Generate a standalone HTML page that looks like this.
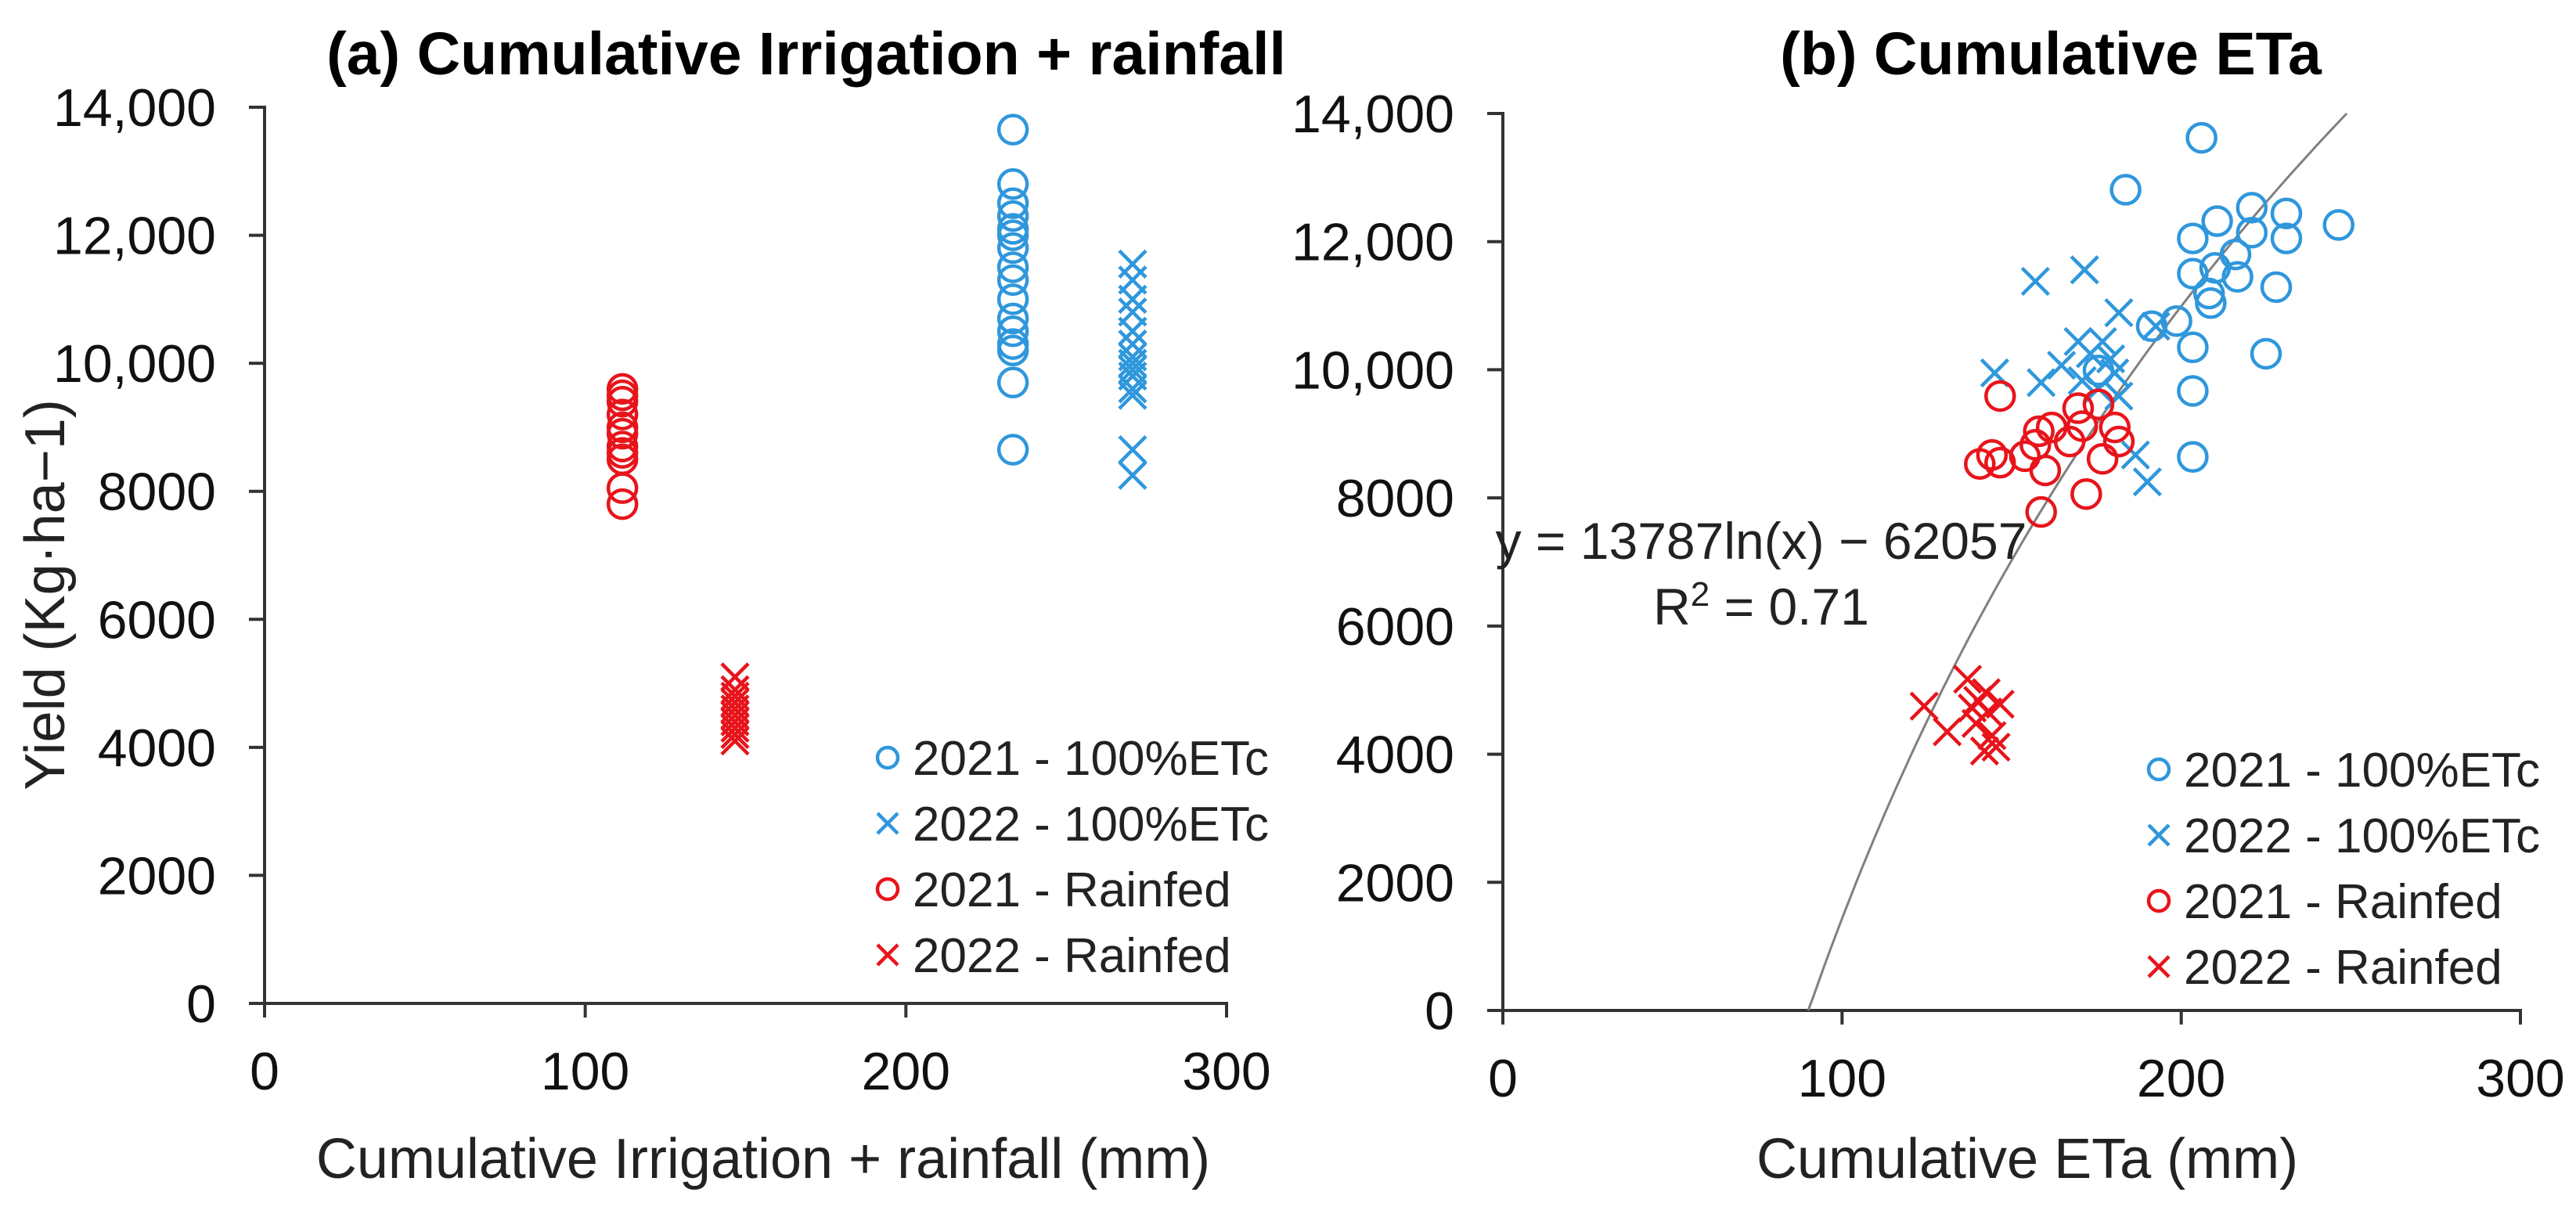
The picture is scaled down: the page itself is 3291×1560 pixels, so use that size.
<!DOCTYPE html>
<html><head><meta charset="utf-8"><style>
html,body{margin:0;padding:0;background:#fff;}
svg{display:block;font-family:"Liberation Sans",Arial,sans-serif;}
</style></head><body>
<svg id="chart" width="3291" height="1560" viewBox="0 0 3291 1560" xmlns="http://www.w3.org/2000/svg">
<rect width="3291" height="1560" fill="#fff"/>
<g id="pa"></g>
<g id="pb"></g>
</svg>
<script>
const xTicks = [0, 100, 200, 300];
const yTicks = [0, 2000, 4000, 6000, 8000, 10000, 12000, 14000];
const yTickLabels = ["0", "2000", "4000", "6000", "8000", "10,000", "12,000", "14,000"];
const seriesNames = ["2021 - 100%ETc", "2022 - 100%ETc", "2021 - Rainfed", "2022 - Rainfed"];

// Panel A data
const aIrr2021X = 233.4;
const aIrr2021Y = [13650,12800,12500,12300,12100,12000,11800,11500,11300,11000,10700,10500,10300,10200,9700,8650];
const aIrr2022X = 270.7;
const aIrr2022Y = [11550,11300,11000,10800,10500,10300,10100,10000,9900,9800,9600,9500,8650,8250];
const aRain2021X = 111.6;
const aRain2021Y = [9600,9500,9400,9200,9000,8900,8700,8600,8500,8050,7800];
const aRain2022X = 146.7;
const aRain2022Y = [5100,4900,4800,4700,4600,4500,4400,4300,4200,4100];

// Panel B data
const bIrr2021X = [206,183.6,203.4,210.6,220.8,220.8,231,231,246.4,203.4,210,216,216.6,208.2,208.7,228,198.6,203.4,225,203.4,203.4,175.6,191.3];
const bIrr2021Y = [13620,12810,12050,12320,12530,12140,12440,12050,12260,11500,11590,11800,11450,11190,11040,11290,10760,10350,10250,9670,8640,9990,10680];
const bIrr2022X = [157,171.5,145,158.7,181.6,192.5,164.7,169.6,173.2,176.8,179.2,170.8,175.6,181.6,186.5,190,180.4];
const bIrr2022Y = [11380,11560,9950,9800,10890,10680,10070,10440,10250,10440,10170,9830,9710,9590,8670,8250,9950];
const bRain2021X = [146.6,140.6,144.2,146.6,153.9,158,157,161.8,159.9,158.7,167.1,169.6,170.8,175.6,172,176.8,180.4,181.6];
const bRain2021Y = [9590,8530,8670,8550,8650,9040,8830,9100,8430,7780,8880,9400,9120,9460,8060,8610,9100,8880];
const bRain2022X = [124.2,131,137,140,143,144.2,145.4,142,139.5,146.6,142.5,138.4];
const bRain2022Y = [4750,4350,5170,4840,4660,4290,4110,4050,4480,4780,4960,4720];
const trendA = 13787, trendB = -62057;
const trendXRange = [90, 248.8];

const BLUE = "#2f97dc", RED = "#e8141b";
const NS = "http://www.w3.org/2000/svg";
function mk(parent, tag, attrs, text) {
  const e = document.createElementNS(NS, tag);
  for (const k in attrs) e.setAttribute(k, attrs[k]);
  if (text !== undefined) e.textContent = text;
  parent.appendChild(e);
  return e;
}
function makeAxes(x0, x1, y0, y1) {
  return {
    sx: v => x0 + (v - 0) / 300 * (x1 - x0),
    sy: v => y0 - v / 14000 * (y0 - y1)
  };
}
function circle(g, cx, cy, color) {
  const c = mk(g, "circle", {cx: cx, cy: cy, r: 18, fill: "none", stroke: color, "stroke-width": 4.5});
  
  
}
function cross(g, cx, cy, color) {
  const s = 17;
  const p = mk(g, "path", {d: `M${cx-s},${cy-s}L${cx+s},${cy+s}M${cx-s},${cy+s}L${cx+s},${cy-s}`, stroke: color, "stroke-width": 4.5, fill: "none"});
  
  
}
function drawFrame(g, ax, x0, x1, y0, y1, title, titleX, xTitle, xTitleX, legendX, legendY, withYTitle) {
  const axis = mk(g, "path", {d: `M${x0-20},${y1}H${x0}V${y0}H${x1}V${y0+18}`, stroke: "#333", "stroke-width": 4, fill: "none"});
  
  
  yTicks.forEach((v, i) => {
    const y = ax.sy(v);
    mk(g, "line", {x1: x0 - 20, x2: x0, y1: y, y2: y, stroke: "#333", "stroke-width": 4});
    const t = mk(g, "text", {x: x0 - 62, y: y + 24, "text-anchor": "end", "font-size": 68, fill: "#111"}, yTickLabels[i]);
    
    
  });
  xTicks.forEach(v => {
    const x = ax.sx(v);
    mk(g, "line", {x1: x, x2: x, y1: y0, y2: y0 + 18, stroke: "#333", "stroke-width": 4});
    const t = mk(g, "text", {x: x, y: y0 + 110, "text-anchor": "middle", "font-size": 68, fill: "#111"}, String(v));
    
    
  });
  const tt = mk(g, "text", {x: titleX, y: 95, "text-anchor": "middle", "font-size": 77, "font-weight": "bold", fill: "#000"}, title);
  
  
  const xt = mk(g, "text", {x: xTitleX, y: 1505, "text-anchor": "middle", "font-size": 72, fill: "#222"}, xTitle);
  
  
  if (withYTitle) {
    const yt = mk(g, "text", {x: 0, y: 0, transform: "translate(82,760) rotate(-90)", "text-anchor": "middle", "font-size": 72, fill: "#222"}, "Yield (Kg·ha−1)");
    
    
  }
  const colors = [BLUE, BLUE, RED, RED];
  seriesNames.forEach((n, i) => {
    const ly = legendY + i * 84;
    const lg = mk(g, "g", {});
    
    
    if (i % 2 === 0) {
      mk(lg, "circle", {cx: legendX, cy: ly, r: 13, fill: "none", stroke: colors[i], "stroke-width": 4.5});
    } else {
      const s = 13;
      mk(lg, "path", {d: `M${legendX-s},${ly-s}L${legendX+s},${ly+s}M${legendX-s},${ly+s}L${legendX+s},${ly-s}`, stroke: colors[i], "stroke-width": 4.5});
    }
    mk(lg, "text", {x: legendX + 32, y: ly + 22, "font-size": 62, fill: "#222"}, n);
  });
}

// Panel A
(function(){
  const g = document.getElementById("pa");
  const x0 = 338, x1 = 1567, y0 = 1282, y1 = 137;
  const ax = makeAxes(x0, x1, y0, y1);
  drawFrame(g, ax, x0, x1, y0, y1, "(a) Cumulative Irrigation + rainfall", 1030, "Cumulative Irrigation + rainfall (mm)", 975, 1134, 968, true);
  aRain2021Y.forEach(v => circle(g, ax.sx(aRain2021X), ax.sy(v), RED));
  aRain2022Y.forEach(v => cross(g, ax.sx(aRain2022X), ax.sy(v), RED));
  aIrr2021Y.forEach(v => circle(g, ax.sx(aIrr2021X), ax.sy(v), BLUE));
  aIrr2022Y.forEach(v => cross(g, ax.sx(aIrr2022X), ax.sy(v), BLUE));
})();

// Panel B
(function(){
  const g = document.getElementById("pb");
  const x0 = 1920, x1 = 3220, y0 = 1291, y1 = 145;
  const ax = makeAxes(x0, x1, y0, y1);
  drawFrame(g, ax, x0, x1, y0, y1, "(b) Cumulative ETa", 2620, "Cumulative ETa (mm)", 2590, 2758, 983, false);
  let d = "";
  for (let i = 0; i <= 100; i++) {
    const x = trendXRange[0] + (trendXRange[1] - trendXRange[0]) * i / 100;
    const y = Math.max(0, trendA * Math.log(x) + trendB);
    d += (i ? "L" : "M") + ax.sx(x).toFixed(1) + "," + ax.sy(y).toFixed(1);
  }
  const tl = mk(g, "path", {d: d, stroke: "#808080", "stroke-width": 3, fill: "none"});
  
  
  bIrr2021X.forEach((x, i) => circle(g, ax.sx(x), ax.sy(bIrr2021Y[i]), BLUE));
  bIrr2022X.forEach((x, i) => cross(g, ax.sx(x), ax.sy(bIrr2022Y[i]), BLUE));
  bRain2021X.forEach((x, i) => circle(g, ax.sx(x), ax.sy(bRain2021Y[i]), RED));
  bRain2022X.forEach((x, i) => cross(g, ax.sx(x), ax.sy(bRain2022Y[i]), RED));
  const eq = mk(g, "text", {x: 2250, y: 714, "text-anchor": "middle", "font-size": 66, fill: "#222"}, "y = 13787ln(x) − 62057");
  
  
  const r2 = mk(g, "text", {x: 2250, y: 798, "text-anchor": "middle", "font-size": 66, fill: "#222"});
  
  
  r2.innerHTML = 'R<tspan dy="-24" font-size="44">2</tspan><tspan dy="24"> = 0.71</tspan>';
})();
</script>
</body></html>
